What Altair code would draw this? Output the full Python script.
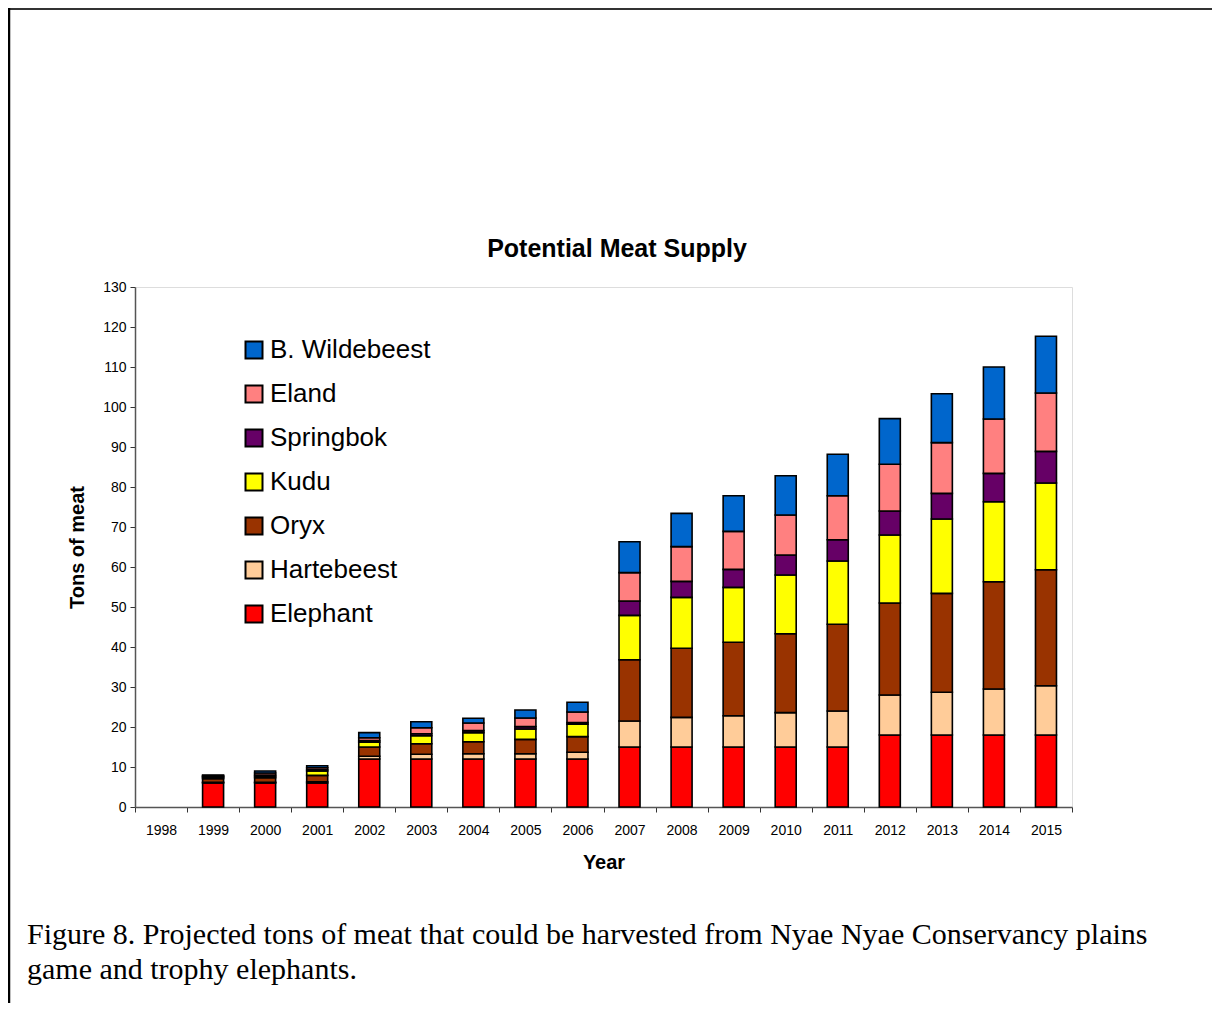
import altair as alt
import pandas as pd

# ---- data ----
axis_years = ["1998", "1999", "2000", "2001", "2002", "2003", "2004", "2005", "2006",
              "2007", "2008", "2009", "2010", "2011", "2012", "2013", "2014", "2015"]
data_years = ["1999", "2000", "2001", "2002", "2003", "2004", "2005", "2006",
              "2007", "2008", "2009", "2010", "2011", "2012", "2013", "2014", "2015"]

elephant = [6, 6, 6, 12, 12, 12, 12, 12, 15, 15, 15, 15, 15, 18, 18, 18, 18]
hartebeest = [0.2, 0.2, 0.3, 0.7, 1.2, 1.3, 1.3, 1.7, 6.5, 7.4, 7.8, 8.6, 9.0, 10.0, 10.7, 11.5, 12.3]
oryx = [0.9, 1.1, 1.6, 2.3, 2.6, 3.0, 3.6, 3.9, 15.3, 17.3, 18.4, 19.7, 21.7, 23.0, 24.7, 26.8, 29.0]
kudu = [0.3, 0.4, 1.1, 1.2, 2.0, 2.3, 2.6, 3.1, 11.1, 12.7, 13.7, 14.7, 15.8, 17.0, 18.6, 20.0, 21.7]
springbok = [0.2, 0.3, 0.3, 0.4, 0.5, 0.5, 0.6, 0.4, 3.6, 4.0, 4.5, 5.0, 5.3, 6.0, 6.4, 7.1, 7.9]
eland = [0.2, 0.5, 0.5, 0.7, 1.5, 1.9, 2.15, 2.65, 7.1, 8.7, 9.5, 10.0, 11.0, 11.7, 12.7, 13.6, 14.6]
wildebeest = [0.2, 0.5, 0.5, 1.3, 1.5, 1.2, 2.0, 2.45, 7.7, 8.3, 8.9, 9.8, 10.4, 11.4, 12.2, 13.0, 14.2]

species_bottom_up = ["Elephant", "Hartebeest", "Oryx", "Kudu", "Springbok", "Eland", "B. Wildebeest"]
species_values = [elephant, hartebeest, oryx, kudu, springbok, eland, wildebeest]
species_colors = ["#FF0000", "#FFCC99", "#993300", "#FFFF00", "#660066", "#FF8080", "#0066CC"]

legend_order = list(reversed(species_bottom_up))
legend_colors = list(reversed(species_colors))

chart_title = "Potential Meat Supply"
x_title = "Year"
y_title = "Tons of meat"
y_ticks = [0, 10, 20, 30, 40, 50, 60, 70, 80, 90, 100, 110, 120, 130]
caption_lines = [
    "Figure 8. Projected tons of meat that could be harvested from Nyae Nyae Conservancy plains",
    "game and trophy elephants.",
]

rows = []
for rank, (sp, vals) in enumerate(zip(species_bottom_up, species_values)):
    for yr, v in zip(data_years, vals):
        rows.append({"Year": yr, "Species": sp, "Tons": v, "Rank": rank})
df = pd.DataFrame(rows)

W, H = 937, 520

bars = alt.Chart(df).mark_bar(size=21, stroke="black", strokeWidth=1.6).encode(
    x=alt.X("Year:N",
            scale=alt.Scale(domain=axis_years, paddingInner=0, paddingOuter=0),
            axis=alt.Axis(title=x_title, labelAngle=0, tickBand="extent",
                          labelFont="Liberation Sans", labelFontSize=14, labelColor="black",
                          labelPadding=11, tickSize=5, tickColor="#333333",
                          domainColor="#555555", domainWidth=1.5,
                          titleFont="Liberation Sans", titleFontSize=20, titleFontWeight="bold",
                          titleColor="black", titlePadding=15, grid=False)),
    y=alt.Y("Tons:Q", stack="zero",
            scale=alt.Scale(domain=[0, 130], nice=False),
            axis=alt.Axis(title=y_title, values=y_ticks,
                          labelFont="Liberation Sans", labelFontSize=14, labelColor="black",
                          labelPadding=4, tickSize=5, tickColor="#333333",
                          domainColor="#555555", domainWidth=1.5,
                          titleFont="Liberation Sans", titleFontSize=20, titleFontWeight="bold",
                          titleColor="black", titlePadding=15, grid=False)),
    color=alt.Color("Species:N",
                    scale=alt.Scale(domain=legend_order, range=legend_colors),
                    legend=alt.Legend(orient="none", legendX=106, legendY=50, title=None,
                                      symbolType="square", symbolSize=289,
                                      symbolStrokeColor="black", symbolStrokeWidth=2,
                                      labelFont="Liberation Sans", labelFontSize=26,
                                      labelColor="black", labelOffset=3, rowPadding=18,
                                      labelLimit=0)),
    order=alt.Order("Rank:Q", sort="ascending"),
)

one = pd.DataFrame({"k": [0]})

title_text = alt.Chart(one).mark_text(
    text=chart_title, font="Liberation Sans", fontSize=25, fontWeight="bold",
    align="center", baseline="alphabetic", color="black"
).encode(x=alt.value(482), y=alt.value(-30))

caption = alt.Chart(one).mark_text(
    text=caption_lines, font="Liberation Serif", fontSize=30, lineHeight=35,
    align="left", baseline="alphabetic", color="black"
).encode(x=alt.value(-108), y=alt.value(657))

frame_top = alt.Chart(one).mark_rule(color="#333333", strokeWidth=2).encode(
    x=alt.value(-127), x2=alt.value(1077), y=alt.value(-278))
frame_left = alt.Chart(one).mark_rule(color="black", strokeWidth=2.5).encode(
    x=alt.value(-126), y=alt.value(-279), y2=alt.value(716))

chart = alt.layer(bars, title_text, caption, frame_top, frame_left).properties(
    width=W, height=H,
    autosize=alt.AutoSizeParams(type="none"),
    padding={"left": 127, "top": 279, "right": 140, "bottom": 196},
).configure_view(stroke="#808080", strokeWidth=2).configure(background="white")

chart.save("out.html", embed_options={"renderer": "svg", "actions": False})
